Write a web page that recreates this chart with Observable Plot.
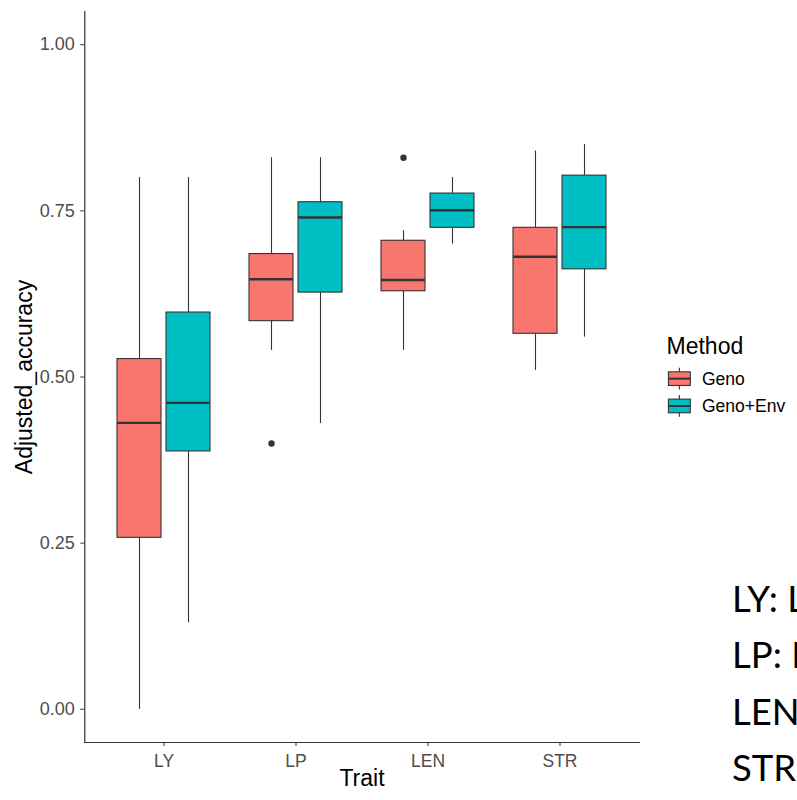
<!DOCTYPE html>
<html><head><meta charset="utf-8">
<script src="https://cdn.jsdelivr.net/npm/d3@7"></script>
<script src="https://cdn.jsdelivr.net/npm/@observablehq/plot@0.6"></script>
<style>
html,body{margin:0;padding:0;background:#fff;overflow:hidden;}
#wrap{position:relative;width:797px;height:800px;overflow:hidden;background:#fff;}
#wrap svg{display:block;}
#overlay{position:absolute;left:0;top:0;pointer-events:none;}
</style></head><body><div id="wrap"></div>
<script>
// ---- data ----
const traits = ["LY", "LP", "LEN", "STR"];
const methods = ["Geno", "Geno+Env"];
const boxTrait = ["LY", "LY", "LP", "LP", "LEN", "LEN", "STR", "STR"];
const boxMethod = ["Geno", "Geno+Env", "Geno", "Geno+Env", "Geno", "Geno+Env", "Geno", "Geno+Env"];
const whiskerLow = [0.00, 0.13, 0.54, 0.43, 0.54, 0.70, 0.51, 0.56];
const q1 = [0.258, 0.388, 0.584, 0.627, 0.629, 0.7245, 0.565, 0.662];
const median = [0.431, 0.461, 0.647, 0.740, 0.646, 0.751, 0.681, 0.7255];
const q3 = [0.527, 0.597, 0.685, 0.763, 0.705, 0.776, 0.7245, 0.803];
const whiskerHigh = [0.80, 0.80, 0.83, 0.83, 0.72, 0.80, 0.84, 0.85];
const outlierTrait = ["LP", "LEN"];
const outlierMethod = ["Geno", "Geno"];
const outlierValue = [0.40, 0.83];
const yTicks = [0, 0.25, 0.5, 0.75, 1];
const methodColors = ["#F8766D", "#00BFC4"];
const xTitle = "Trait";
const yTitle = "Adjusted_accuracy";
const legendTitle = "Method";
const noteLines = ["LY: Lint yield", "LP: Lint percentage", "LEN: Fiber length", "STR: Fiber strength"];

// ---- tables ----
const rows = boxTrait.map((t, i) => ({
  trait: t, method: boxMethod[i], lo: whiskerLow[i], q1: q1[i], med: median[i], q3: q3[i], hi: whiskerHigh[i]
}));
const outliers = outlierTrait.map((t, i) => ({trait: t, method: outlierMethod[i], value: outlierValue[i]}));

// ---- layout (ggplot-like discrete spacing) ----
const W = 797, H = 800, mL = 84, mR = 158, mT = 11, mB = 58;
const fxPadIn = 0.25, fxPadOut = 0.225;
const fxStep = (W - mL - mR) / (traits.length - fxPadIn + 2 * fxPadOut);
const edgeShift = -fxPadOut * fxStep; // panel edge lies outside the outer facets

const ink = "#333333";
const chart = Plot.plot({
  width: W, height: H,
  marginLeft: mL, marginRight: mR, marginTop: mT, marginBottom: mB,
  style: {fontFamily: "'Liberation Sans', Arial, sans-serif", background: "#fff", overflow: "visible"},
  fx: {domain: traits, paddingInner: fxPadIn, paddingOuter: fxPadOut, label: null},
  x: {domain: methods, paddingInner: 0.1, paddingOuter: 0.05, axis: null},
  y: {domain: [-0.05, 1.05]},
  color: {domain: methods, range: methodColors},
  marks: [
    Plot.ruleX(rows, {fx: "trait", x: "method", y1: "lo", y2: "q1", stroke: ink, strokeWidth: 1.1}),
    Plot.ruleX(rows, {fx: "trait", x: "method", y1: "q3", y2: "hi", stroke: ink, strokeWidth: 1.1}),
    Plot.barY(rows, {fx: "trait", x: "method", y1: "q1", y2: "q3", fill: "method", stroke: ink, strokeWidth: 1.1}),
    Plot.tickY(rows, {fx: "trait", x: "method", y: "med", stroke: ink, strokeWidth: 2.4}),
    Plot.dot(outliers, {fx: "trait", x: "method", y: "value", r: 3.2, fill: ink, stroke: null}),
    Plot.axisY({ticks: yTicks, tickFormat: d3.format(".2f"), tickSize: 4, tickPadding: 6, dx: edgeShift,
      fontSize: 18, fill: "#4d4d4d", stroke: ink, label: null}),
    Plot.axisFx({anchor: "bottom", tickSize: 4, tickPadding: 8.5, fontSize: 17.5, fill: "#4d4d4d", stroke: ink, label: null}),
    Plot.frame({anchor: "left", facet: "super", insetLeft: edgeShift, stroke: ink, strokeWidth: 1.2}),
    Plot.frame({anchor: "bottom", facet: "super", insetLeft: edgeShift, insetRight: edgeShift, stroke: ink, strokeWidth: 1.2}),
    Plot.text([xTitle], {facet: "super", frameAnchor: "bottom", dy: 43, fontSize: 23, fill: "black"}),
    Plot.text([yTitle], {facet: "super", frameAnchor: "left", textAnchor: "middle", rotate: -90,
      dx: edgeShift - 60.5, fontSize: 23, fill: "black"})
  ]
});

const wrap = document.getElementById("wrap");
wrap.appendChild(chart);

// ---- legend and side notes overlay ----
const color = chart.scale("color");
const ov = d3.select(wrap).append("svg").attr("id", "overlay")
  .attr("width", W).attr("height", H);
const lg = ov.append("g").attr("font-family", "'Liberation Sans', Arial, sans-serif");
lg.append("text").attr("x", 666.5).attr("y", 354).attr("font-size", 23).attr("fill", "black").text(legendTitle);
const keySize = 27.3;
methods.forEach((m, i) => {
  const kx = 665.7, ky = 365 + i * keySize;
  const g = lg.append("g").attr("transform", `translate(${kx},${ky})`);
  const cx = keySize / 2;
  g.append("line").attr("x1", cx).attr("x2", cx).attr("y1", keySize * 0.1).attr("y2", keySize * 0.9)
    .attr("stroke", ink).attr("stroke-width", 1.1);
  g.append("rect").attr("x", keySize * 0.1).attr("y", keySize * 0.25)
    .attr("width", keySize * 0.8).attr("height", keySize * 0.5)
    .attr("fill", color.apply(m)).attr("stroke", ink).attr("stroke-width", 1.1);
  g.append("line").attr("x1", keySize * 0.1).attr("x2", keySize * 0.9).attr("y1", cx).attr("y2", cx)
    .attr("stroke", ink).attr("stroke-width", 2);
  lg.append("text").attr("x", 702).attr("y", ky + cx + 6.3).attr("font-size", 17.5).attr("fill", "black").text(m);
});
const notes = ov.append("g").attr("font-family", "Lato, 'Open Sans', sans-serif").attr("font-size", 36.5).attr("fill", "black");
noteLines.forEach((t, i) => {
  notes.append("text").attr("x", 732).attr("y", 612 + i * 56.3).text(t);
});
</script></body></html>
